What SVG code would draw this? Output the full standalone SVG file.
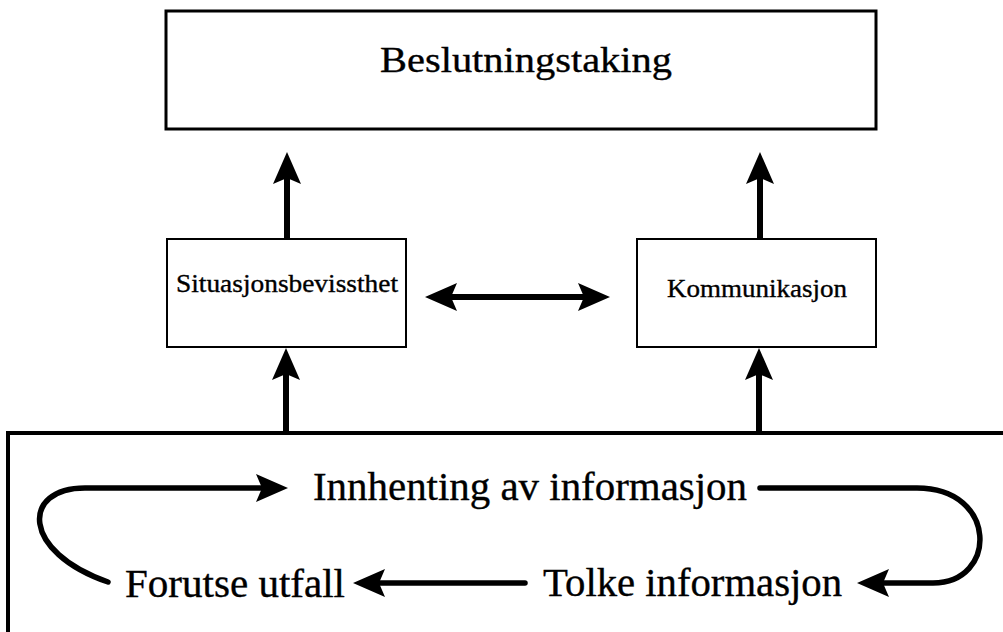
<svg xmlns="http://www.w3.org/2000/svg" width="1003" height="632" viewBox="0 0 1003 632">
  <style>
    .box { fill: #ffffff; stroke: #000000; }
    .lbl { font-family: "Liberation Serif", "Times New Roman", serif; fill: #000000; stroke: #000000; stroke-width: 0.35; }
    .conn { fill: none; stroke: #000000; stroke-width: 6; }
    .loop { fill: none; stroke: #000000; stroke-width: 5.5; stroke-linecap: round; }
  </style>
  <defs>
    <marker id="ah" markerUnits="userSpaceOnUse" markerWidth="32" markerHeight="28" viewBox="0 0 32 28" refX="12" refY="14" orient="auto-start-reverse">
      <path d="M0,0 L32,14 L0,28 L6,14 Z" fill="#000000"/>
    </marker>
  </defs>
  <rect width="1003" height="632" fill="#ffffff"/>

  <g id="node-beslutning">
    <rect class="box" x="166" y="11" width="710" height="118" stroke-width="3"/>
    <text class="lbl" x="380" y="72" font-size="36" textLength="292" lengthAdjust="spacingAndGlyphs">Beslutningstaking</text>
  </g>

  <g id="node-situasjon">
    <rect class="box" x="167" y="239" width="239" height="108" stroke-width="2"/>
    <text class="lbl" x="176" y="292" font-size="25" textLength="222" lengthAdjust="spacingAndGlyphs">Situasjonsbevissthet</text>
  </g>

  <g id="node-kommunikasjon">
    <rect class="box" x="637" y="239" width="239" height="108" stroke-width="2"/>
    <text class="lbl" x="667" y="297" font-size="25" textLength="180" lengthAdjust="spacingAndGlyphs">Kommunikasjon</text>
  </g>

  <g id="node-prosess">
    <rect class="box" x="8" y="433" width="1010" height="220" stroke-width="4"/>
    <text class="lbl" x="313" y="500" font-size="39" textLength="434" lengthAdjust="spacingAndGlyphs">Innhenting av informasjon</text>
    <text class="lbl" x="543" y="596" font-size="39" textLength="299" lengthAdjust="spacingAndGlyphs">Tolke informasjon</text>
    <text class="lbl" x="125" y="597" font-size="39" textLength="220" lengthAdjust="spacingAndGlyphs">Forutse utfall</text>
  </g>

  <g id="connectors">
    <line class="conn" x1="287" y1="239" x2="287" y2="172" marker-end="url(#ah)"/>
    <line class="conn" x1="760" y1="239" x2="760" y2="172" marker-end="url(#ah)"/>
    <line class="conn" x1="286" y1="433" x2="286" y2="368" marker-end="url(#ah)"/>
    <line class="conn" x1="759" y1="433" x2="759" y2="368" marker-end="url(#ah)"/>
    <line class="conn" x1="445" y1="297" x2="590" y2="297" marker-start="url(#ah)" marker-end="url(#ah)"/>
    <path class="loop" d="M108,582 C21,552 21,488 85,488 L268,488" marker-end="url(#ah)"/>
    <path class="loop" d="M760,488 L917,488 C998,488 998,583 933,583 L877,583" marker-end="url(#ah)"/>
    <path class="loop" d="M525,583 L373,583" marker-end="url(#ah)"/>
  </g>
</svg>
